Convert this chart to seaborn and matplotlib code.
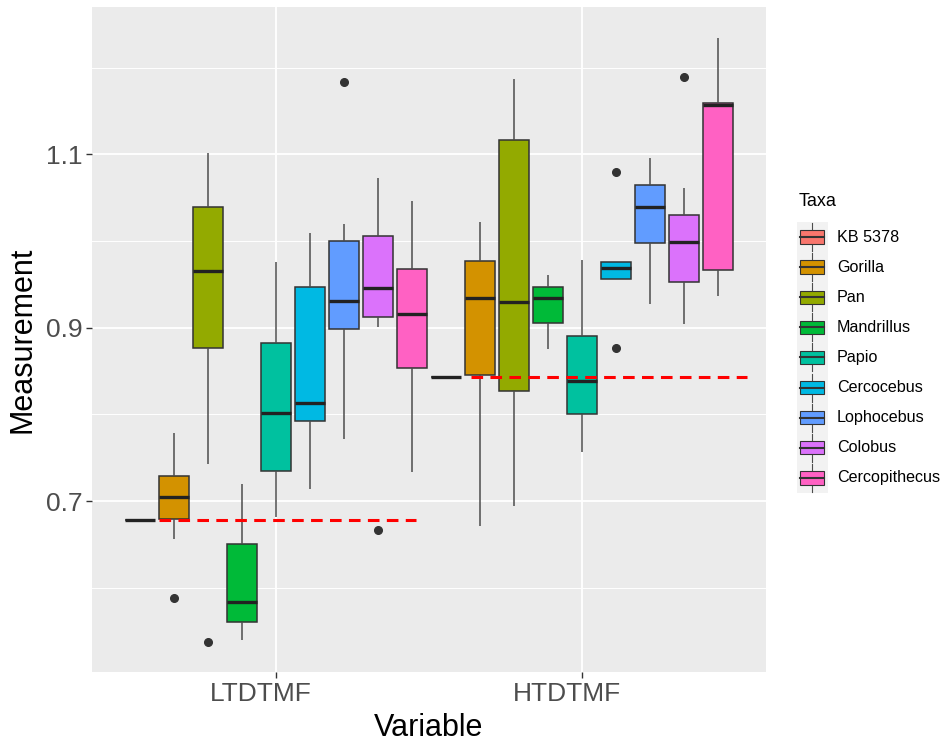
import numpy as np
import pandas as pd
import matplotlib
matplotlib.use("Agg")
import matplotlib.pyplot as plt
import seaborn as sns
from matplotlib.patches import Rectangle
from matplotlib.lines import Line2D
from matplotlib.transforms import ScaledTranslation

plt.rcParams["font.family"] = ["Liberation Sans", "DejaVu Sans"]

# ---------------- data ----------------
variables = ["LTDTMF", "HTDTMF"]
taxa = ["KB 5378", "Gorilla", "Pan", "Mandrillus", "Papio",
        "Cercocebus", "Lophocebus", "Colobus", "Cercopithecus"]
colors = ["#F8766D", "#D39200", "#93AA00", "#00BA38", "#00C19F",
          "#00B9E3", "#619CFF", "#DB72FB", "#FF61C3"]

# LTDTMF samples
kb5378_lt = [0.678]
gorilla_lt = [0.588, 0.656, 0.679, 0.679, 0.705, 0.705, 0.729, 0.778, 0.778]
pan_lt = [0.537, 0.743, 0.877, 0.877, 0.966, 0.966, 1.039, 1.102, 1.102]
mandrillus_lt = [0.540, 0.560, 0.583, 0.650, 0.720]
papio_lt = [0.681, 0.735, 0.802, 0.882, 0.976]
cercocebus_lt = [0.714, 0.792, 0.813, 0.947, 1.009]
lophocebus_lt = [0.772, 0.772, 0.898, 0.898, 0.931, 0.931, 1.000, 1.020, 1.184]
colobus_lt = [0.667, 0.901, 0.912, 0.912, 0.946, 0.946, 1.006, 1.073, 1.073]
cercopithecus_lt = [0.733, 0.853, 0.916, 0.968, 1.046]

# HTDTMF samples
kb5378_ht = [0.843]
gorilla_ht = [0.671, 0.846, 0.934, 0.977, 1.022]
pan_ht = [0.694, 0.827, 0.930, 1.117, 1.187]
mandrillus_ht = [0.875, 0.905, 0.934, 0.947, 0.961]
papio_ht = [0.757, 0.800, 0.839, 0.891, 0.978]
cercocebus_ht = [0.877, 0.956, 0.969, 0.976, 1.080]
lophocebus_ht = [0.928, 0.998, 1.039, 1.065, 1.096]
colobus_ht = [0.904, 0.904, 0.953, 0.953, 0.999, 0.999, 1.030, 1.061, 1.189]
cercopithecus_ht = [0.937, 0.967, 1.157, 1.160, 1.235]

lt_samples = [kb5378_lt, gorilla_lt, pan_lt, mandrillus_lt, papio_lt,
              cercocebus_lt, lophocebus_lt, colobus_lt, cercopithecus_lt]
ht_samples = [kb5378_ht, gorilla_ht, pan_ht, mandrillus_ht, papio_ht,
              cercocebus_ht, lophocebus_ht, colobus_ht, cercopithecus_ht]

rows = []
for var, group in zip(variables, [lt_samples, ht_samples]):
    for taxon, vals in zip(taxa, group):
        for v in vals:
            rows.append({"Variable": var, "Taxa": taxon, "Measurement": v})
df = pd.DataFrame(rows)

# ---------------- figure ----------------
W, H = 943, 743
fig = plt.figure(figsize=(W / 100, H / 100), dpi=100)
left, right, top, bottom = 92, 766, 6.7, 672.3
ax = fig.add_axes([left / W, (H - bottom) / H, (right - left) / W, (bottom - top) / H])
ax.set_facecolor("#EBEBEB")

sns.boxplot(data=df, x="Variable", y="Measurement", hue="Taxa",
            order=variables, hue_order=taxa, palette=colors,
            saturation=1, width=1.0, gap=0.12, dodge=True,
            linecolor="#333333", linewidth=1.1, whis=1.5,
            showcaps=False, fliersize=5.5,
            flierprops=dict(marker="o", markerfacecolor="#333333",
                            markeredgecolor="#333333"),
            whiskerprops=dict(color="#4D4D4D"),
            medianprops=dict(linewidth=2.4, color="#222222"),
            legend=False, ax=ax)

# reference lines at KB 5378 values
ax.plot([-0.381, 0.456], [kb5378_lt[0]] * 2, color="#FF0000", lw=2.2,
        ls=(0, (3.8, 2.4)), zorder=6, solid_capstyle="butt")
ax.plot([0.638, 1.537], [kb5378_ht[0]] * 2, color="#FF0000", lw=2.2,
        ls=(0, (3.8, 2.4)), zorder=6, solid_capstyle="butt")

ax.set_xlim(-0.6, 1.6)
ax.set_ylim(0.5023, 1.2706)
ax.set_yticks([0.7, 0.9, 1.1])
ax.set_yticks([0.6, 0.8, 1.0, 1.2], minor=True)
ax.set_yticklabels(["0.7", "0.9", "1.1"])
ax.grid(which="major", color="white", lw=1.3)
ax.grid(which="minor", axis="y", color="white", lw=0.7)
ax.set_axisbelow(True)
for s in ax.spines.values():
    s.set_visible(False)
ax.tick_params(which="major", color="#333333", length=4, width=1,
               labelcolor="#4D4D4D", labelsize=19, pad=3)
ax.tick_params(which="minor", length=0)
ax.set_xlabel("Variable", fontsize=22, labelpad=5)
ax.set_ylabel("Measurement", fontsize=22, labelpad=6)

# x tick labels sit slightly left of their ticks in the reference
shift = ScaledTranslation(-15 / 100, 0, fig.dpi_scale_trans)
for lbl in ax.get_xticklabels():
    lbl.set_transform(lbl.get_transform() + shift)

# ---------------- legend (ggplot style) ----------------
lax = fig.add_axes([0, 0, 1, 1])
lax.set_xlim(0, W)
lax.set_ylim(H, 0)
lax.axis("off")
lax.patch.set_alpha(0)
lax.text(799, 202, "Taxa", fontsize=13, va="center", ha="left", color="black")
step = 30.1
y0 = 237
lax.add_patch(Rectangle((797, y0 - step / 2), 31, step * 9,
                        facecolor="#F2F2F2", edgecolor="none"))
for i, (t, c) in enumerate(zip(taxa, colors)):
    cy = y0 + i * step
    lax.add_line(Line2D([812, 812], [cy - 14, cy + 14], color="#4D4D4D", lw=0.8))
    lax.add_patch(Rectangle((800, cy - 6.7), 24, 13.4, facecolor=c,
                            edgecolor="#333333", lw=0.8, zorder=3))
    lax.add_line(Line2D([800, 824], [cy, cy], color="#333333", lw=1.5, zorder=4))
    lax.text(837, cy, t, fontsize=11.6, va="center", ha="left", color="black")

fig.savefig("out.png", dpi=100)
